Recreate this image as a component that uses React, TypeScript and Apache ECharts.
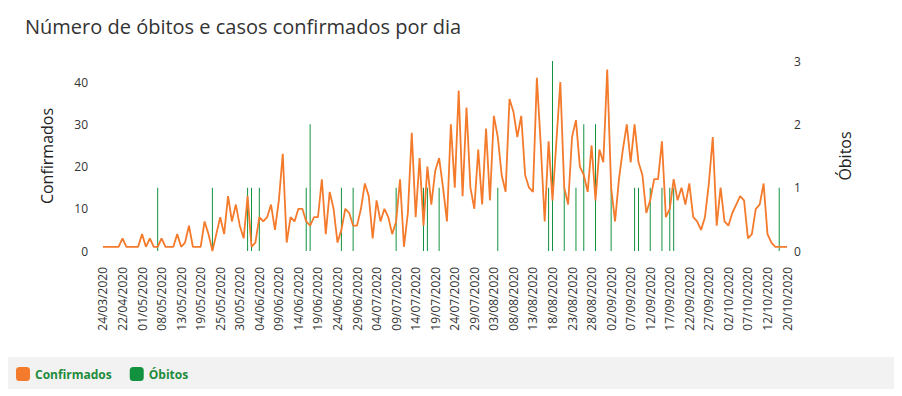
import React, { useEffect, useRef } from "react";
import * as echarts from "echarts";

const dates: string[] = [
  "24/03/2020", "28/03/2020", "02/04/2020", "09/04/2020", "16/04/2020",
  "22/04/2020", "24/04/2020", "26/04/2020", "28/04/2020", "30/04/2020",
  "01/05/2020", "03/05/2020", "04/05/2020", "05/05/2020", "06/05/2020",
  "08/05/2020", "09/05/2020", "10/05/2020", "11/05/2020", "12/05/2020",
  "13/05/2020", "14/05/2020", "15/05/2020", "16/05/2020", "18/05/2020",
  "19/05/2020", "20/05/2020", "21/05/2020", "22/05/2020", "23/05/2020",
  "25/05/2020", "26/05/2020", "27/05/2020", "28/05/2020", "29/05/2020",
  "30/05/2020", "31/05/2020", "01/06/2020", "02/06/2020", "03/06/2020",
  "04/06/2020", "05/06/2020", "06/06/2020", "07/06/2020", "08/06/2020",
  "09/06/2020", "10/06/2020", "11/06/2020", "12/06/2020", "13/06/2020",
  "14/06/2020", "15/06/2020", "16/06/2020", "17/06/2020", "18/06/2020",
  "19/06/2020", "20/06/2020", "21/06/2020", "22/06/2020", "23/06/2020",
  "24/06/2020", "25/06/2020", "26/06/2020", "27/06/2020", "28/06/2020",
  "29/06/2020", "30/06/2020", "01/07/2020", "02/07/2020", "03/07/2020",
  "04/07/2020", "05/07/2020", "06/07/2020", "07/07/2020", "08/07/2020",
  "09/07/2020", "10/07/2020", "11/07/2020", "12/07/2020", "13/07/2020",
  "14/07/2020", "15/07/2020", "16/07/2020", "17/07/2020", "18/07/2020",
  "19/07/2020", "20/07/2020", "21/07/2020", "22/07/2020", "23/07/2020",
  "24/07/2020", "25/07/2020", "26/07/2020", "27/07/2020", "28/07/2020",
  "29/07/2020", "30/07/2020", "31/07/2020", "01/08/2020", "02/08/2020",
  "03/08/2020", "04/08/2020", "05/08/2020", "06/08/2020", "07/08/2020",
  "08/08/2020", "09/08/2020", "10/08/2020", "11/08/2020", "12/08/2020",
  "13/08/2020", "14/08/2020", "15/08/2020", "16/08/2020", "17/08/2020",
  "18/08/2020", "19/08/2020", "20/08/2020", "21/08/2020", "22/08/2020",
  "23/08/2020", "24/08/2020", "25/08/2020", "26/08/2020", "27/08/2020",
  "28/08/2020", "29/08/2020", "30/08/2020", "31/08/2020", "01/09/2020",
  "02/09/2020", "03/09/2020", "04/09/2020", "05/09/2020", "06/09/2020",
  "07/09/2020", "08/09/2020", "09/09/2020", "10/09/2020", "11/09/2020",
  "12/09/2020", "13/09/2020", "14/09/2020", "15/09/2020", "16/09/2020",
  "17/09/2020", "18/09/2020", "19/09/2020", "20/09/2020", "21/09/2020",
  "22/09/2020", "23/09/2020", "24/09/2020", "25/09/2020", "26/09/2020",
  "27/09/2020", "28/09/2020", "29/09/2020", "30/09/2020", "01/10/2020",
  "02/10/2020", "03/10/2020", "04/10/2020", "05/10/2020", "06/10/2020",
  "07/10/2020", "08/10/2020", "09/10/2020", "10/10/2020", "11/10/2020",
  "12/10/2020", "13/10/2020", "14/10/2020", "15/10/2020", "17/10/2020",
  "20/10/2020",
];

const confirmados: number[] = [
  1, 1, 1, 1, 1, 3, 1, 1, 1, 1,
  4, 1, 3, 1, 1, 3, 1, 1, 1, 4,
  1, 2, 6, 1, 1, 1, 7, 4, 0, 4,
  8, 4, 13, 7, 11, 6, 3, 13, 1, 2,
  8, 7, 8, 11, 5, 12, 23, 2, 8, 7,
  10, 10, 7, 6, 8, 8, 17, 4, 14, 10,
  2, 5, 10, 9, 6, 6, 10, 16, 13, 3,
  12, 7, 10, 8, 4, 7, 17, 1, 9, 28,
  8, 22, 6, 20, 11, 19, 22, 15, 7, 30,
  15, 38, 13, 34, 15, 10, 24, 11, 29, 12,
  32, 27, 18, 14, 36, 33, 27, 32, 18, 15,
  14, 41, 25, 7, 26, 12, 26, 40, 15, 11,
  27, 31, 20, 18, 14, 25, 12, 24, 21, 43,
  15, 7, 17, 24, 30, 21, 30, 21, 18, 9,
  12, 17, 17, 26, 8, 10, 17, 12, 15, 11,
  16, 8, 7, 5, 8, 16, 27, 6, 15, 7,
  6, 9, 11, 13, 12, 3, 4, 10, 11, 16,
  4, 2, 1, 1, 1, 1,
];

const obitos: number[] = [
  0, 0, 0, 0, 0, 0, 0, 0, 0, 0,
  0, 0, 0, 0, 1, 0, 0, 0, 0, 0,
  0, 0, 0, 0, 0, 0, 0, 0, 1, 0,
  0, 0, 0, 0, 0, 0, 0, 1, 1, 0,
  1, 0, 0, 0, 0, 0, 0, 0, 0, 0,
  0, 0, 1, 2, 0, 0, 0, 0, 0, 0,
  0, 1, 0, 0, 1, 0, 0, 0, 0, 0,
  0, 0, 0, 0, 0, 1, 0, 0, 0, 0,
  0, 0, 1, 1, 0, 0, 1, 0, 0, 0,
  0, 0, 0, 0, 0, 0, 0, 0, 0, 0,
  0, 1, 0, 0, 0, 0, 0, 0, 0, 0,
  0, 0, 0, 0, 1, 3, 0, 0, 1, 0,
  0, 1, 0, 2, 0, 0, 2, 0, 0, 0,
  1, 0, 0, 0, 0, 0, 1, 1, 0, 0,
  1, 0, 0, 1, 0, 1, 1, 0, 0, 0,
  0, 0, 0, 0, 0, 0, 0, 0, 0, 0,
  0, 0, 0, 0, 0, 0, 0, 0, 0, 0,
  0, 0, 0, 1, 0, 0,
];

const FONT = "'Open Sans', 'Noto Sans', sans-serif";
const ORANGE = "#f47a2c";
const GREEN = "#12923f";

export default function App() {
  const ref = useRef<HTMLDivElement>(null);

  useEffect(() => {
    document.body.style.margin = "0";
    if (!ref.current) return;
    const chart = echarts.init(ref.current, undefined, { renderer: "svg" });
    chart.setOption({
      animation: false,
      backgroundColor: "#ffffff",
      textStyle: { fontFamily: FONT },
      title: {
        text: "Número de óbitos e casos confirmados por dia",
        left: 20,
        top: 11,
        textStyle: { fontFamily: FONT, fontSize: 20, fontWeight: "normal", color: "#333333" },
      },
      graphic: [
        {
          type: "rect",
          z: -1,
          shape: { x: 8, y: 357, width: 886, height: 32 },
          style: { fill: "#f2f2f2" },
        },
      ],
      legend: {
        data: ["Confirmados", "Óbitos"],
        left: 16,
        top: 367,
        icon: "roundRect",
        itemWidth: 14,
        itemHeight: 14,
        itemGap: 18,
        padding: 0,
        textStyle: { fontFamily: FONT, fontSize: 12, fontWeight: "bold", color: "#1e8b3c" },
      },
      grid: { left: 101, right: 113, top: 61, bottom: 145 },
      xAxis: {
        type: "category",
        data: dates,
        boundaryGap: true,
        axisLine: { show: false },
        axisTick: { show: false },
        axisLabel: {
          interval: 4,
          rotate: 90,
          margin: 16,
          fontSize: 12,
          fontFamily: FONT,
          color: "#333333",
        },
      },
      yAxis: [
        {
          type: "value",
          min: 0,
          max: 45,
          interval: 10,
          name: "Confirmados",
          nameLocation: "middle",
          nameRotate: 90,
          nameGap: 46,
          nameTextStyle: { fontFamily: FONT, fontSize: 16, color: "#222222" },
          splitLine: { show: false },
          axisLine: { show: false },
          axisTick: { show: false },
          axisLabel: { showMaxLabel: false, margin: 13, fontSize: 12, fontFamily: FONT, color: "#333333" },
        },
        {
          type: "value",
          position: "right",
          min: 0,
          max: 3,
          interval: 1,
          name: "Óbitos",
          nameLocation: "middle",
          nameRotate: 90,
          nameGap: 48,
          nameTextStyle: { fontFamily: FONT, fontSize: 16, color: "#222222" },
          splitLine: { show: false },
          axisLine: { show: false },
          axisTick: { show: false },
          axisLabel: { margin: 5, fontSize: 12, fontFamily: FONT, color: "#333333" },
        },
      ],
      series: [
        {
          name: "Confirmados",
          type: "line",
          yAxisIndex: 0,
          data: confirmados,
          symbol: "none",
          itemStyle: { color: ORANGE },
          lineStyle: { color: ORANGE, width: 1.8 },
        },
        {
          name: "Óbitos",
          type: "bar",
          yAxisIndex: 1,
          data: obitos,
          barWidth: 1,
          itemStyle: { color: GREEN },
        },
      ],
    });
    return () => chart.dispose();
  }, []);

  return <div ref={ref} style={{ width: 902, height: 396 }} />;
}
